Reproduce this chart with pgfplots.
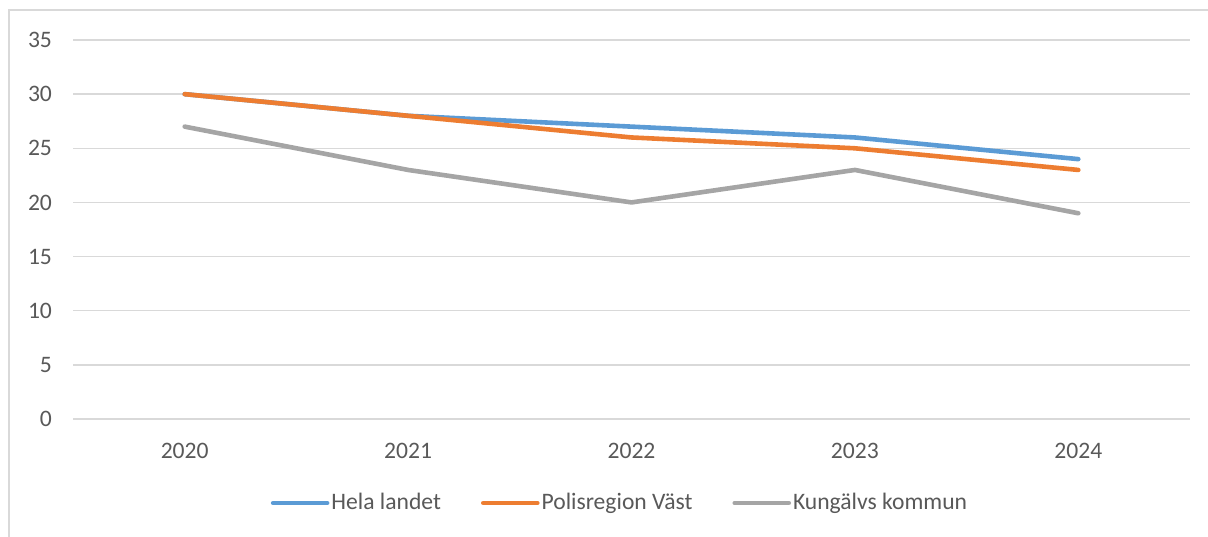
\documentclass[border=0pt]{standalone}
\usepackage{fontspec}
\setmainfont{Carlito}
\usepackage{pgfplots}
\pgfplotsset{compat=1.18}
\definecolor{cblue}{HTML}{5B9BD5}
\definecolor{corange}{HTML}{ED7D31}
\definecolor{cgray}{HTML}{A5A5A5}
\definecolor{gridc}{HTML}{D9D9D9}
\definecolor{textc}{HTML}{595959}

\begin{document}
\begin{tikzpicture}
\useasboundingbox (0,0) rectangle (604pt,268pt);
% chart frame (only left and top edges are inside the crop)
\draw[gridc, line width=0.6pt] (4.5pt,-5pt) -- (4.5pt,263pt) -- (610pt,263pt);
\begin{axis}[
  at={(36.5pt,58.5pt)}, anchor=south west, scale only axis,
  width=558.5pt, height=189.5pt,
  xmin=-0.5, xmax=4.5, ymin=0, ymax=35,
  xtick={0,...,4}, xticklabels={2020,2021,2022,2023,2024},
  ytick={0,5,...,35},
  ymajorgrids, major grid style={gridc, line width=0.65pt},
  axis line style={draw=none}, major tick length=0pt,
  tick label style={font=\fontsize{11.8}{14}\selectfont, text=textc},
  /pgf/number format/assume math mode=true,
  yticklabel style={xshift=-7pt},
  xticklabel style={yshift=-8.4pt},
  legend columns=3,
  legend style={at={(0.4897,-0.2216)}, anchor=center, draw=none,
    font=\fontsize{11.8}{14}\selectfont, text=textc,
    nodes={inner sep=1pt},
    /tikz/every even column/.append style={column sep=19pt}},
  legend image code/.code={\draw[#1, line cap=round] (0pt,0pt) -- (27pt,0pt);},
  every axis plot/.append style={line width=2.3pt, line cap=round, line join=round, mark=none},
]
\addplot[cblue] coordinates {(0,30) (1,28) (2,27) (3,26) (4,24)};
\addlegendentry{Hela landet}
\addplot[corange] coordinates {(0,30) (1,28) (2,26) (3,25) (4,23)};
\addlegendentry{Polisregion Väst}
\addplot[cgray] coordinates {(0,27) (1,23) (2,20) (3,23) (4,19)};
\addlegendentry{Kungälvs kommun}
\end{axis}
\end{tikzpicture}
\end{document}
